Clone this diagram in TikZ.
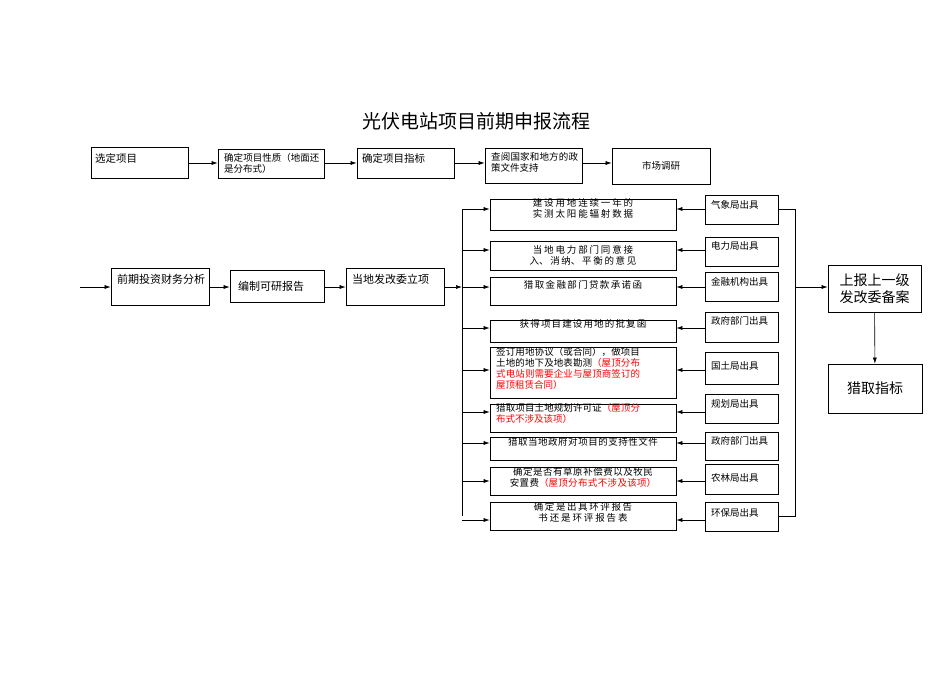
\documentclass[tikz,border=0pt]{standalone}
\usepackage{fontspec}
\setmainfont{Noto Sans CJK SC}
\XeTeXlinebreaklocale "zh"
\XeTeXlinebreakskip=0pt plus 1pt
\usetikzlibrary{arrows.meta}
\begin{document}
\begin{tikzpicture}[x=1pt,y=-1pt,
  bx/.style={draw,line width=0.7pt,inner sep=0pt},
  tx/.style={font=\fontsize{9.5}{11}\selectfont,align=left,inner sep=2pt},
  ar/.style={-{Latex[length=6pt,width=4pt]},line width=0.6pt},
  ln/.style={line width=0.6pt}]
\useasboundingbox (0,0) rectangle (950,672);
\newcommand{\bb}[5]{\node[bx,minimum width=#3-#1,minimum height=#4-#2] (#5) at ({(#1+#3)/2},{(#2+#4)/2}) {};}
\node[font=\fontsize{19}{22}\selectfont] (title) at (476,121) {光伏电站项目前期申报流程};
% top row
\bb{91}{147}{188}{178}{a1}\node[tx,anchor=west,font=\fontsize{10.5}{12}\selectfont] at (93,158) {选定项目};
\bb{218}{149}{324}{178}{a2}\node[tx,anchor=north west,text width=96pt] at (222,151) {确定项目性质（地面还是分布式）};
\bb{357}{148}{454}{178}{a3}\node[tx,anchor=west,font=\fontsize{10.5}{12}\selectfont] at (360,158) {确定项目指标};
\bb{485}{148}{582}{183}{a4}\node[tx,anchor=north west,text width=90pt] at (489,150) {查阅国家和地方的政策文件支持};
\bb{612}{148}{710}{184}{a5}\node[tx] at (661,166) {市场调研};
\coordinate (ty) at (0,163);
\draw[ar] (a1.east |- ty) -- (a2.west |- ty);
\draw[ar] (a2.east |- ty) -- (a3.west |- ty);
\draw[ar] (a3.east |- ty) -- (a4.west |- ty);
\draw[ar] (a4.east |- ty) -- (a5.west |- ty);
% row 2
\bb{111}{268}{209}{305}{b1}\node[tx,anchor=north west,text width=92pt,font=\fontsize{11}{13}\selectfont] at (115,272) {前期投资财务分析};
\bb{230}{270}{324}{302}{b2}\node[tx,font=\fontsize{11}{13}\selectfont] at (271,286) {编制可研报告};
\bb{346}{268}{444}{305}{b3}\node[tx,anchor=north west,text width=92pt,font=\fontsize{11}{13}\selectfont] at (350,272) {当地发改委立项};
\coordinate (in) at (80,287);
\draw[ar] (in) -- (b1.west |- in);
\draw[ar] (b1.east |- in) -- (b2.west |- in);
\draw[ar] (b2.east |- in) -- (b3.west |- in);
\coordinate (lb) at (462,287);
\draw[ar] (b3.east |- in) -- (lb);
\coordinate (lt) at (462,209);\coordinate (lbt) at (462,516);
\draw[ln] (lt) -- (lbt);
% middle boxes
\bb{490}{199}{676}{230}{m1}\bb{490}{241}{676}{270}{m2}\bb{490}{277}{676}{305}{m3}
\bb{490}{320}{676}{342}{m4}\bb{490}{347}{676}{398}{m5}\bb{490}{404}{676}{432}{m6}
\bb{490}{437}{676}{460}{m7}\bb{490}{467}{676}{495}{m8}\bb{490}{502}{676}{530}{m9}
\node[tx,anchor=north,text width=170pt,align=center] at (583,196) {建设用地连续一年的实测太阳能辐射数据};
\node[tx,anchor=north,text width=170pt,align=center] at (583,243) {当地电力部门同意接入、消纳、平衡的意见};
\node[tx,anchor=north,text width=170pt,align=center] at (583,278) {猎取金融部门贷款承诺函};
\node[tx,anchor=north,text width=170pt,align=center] at (583,317) {获得项目建设用地的批复函};
\node[tx,anchor=north west,text width=146pt] at (494,345) {签订用地协议（或合同），做项目土地的地下及地表勘测\textcolor{red}{（屋顶分布式电站则需要企业与屋顶商签订的屋顶租赁合同）}};
\node[tx,anchor=north west,text width=146pt] at (494,401) {猎取项目土地规划许可证\textcolor{red}{（屋顶分布式不涉及该项）}};
\node[tx,anchor=north,text width=170pt,align=center] at (583,435) {猎取当地政府对项目的支持性文件};
\node[tx,anchor=north,text width=160pt,align=center] at (583,465) {确定是否有草原补偿费以及牧民安置费\textcolor{red}{（屋顶分布式不涉及该项）}};
\node[tx,anchor=north,text width=160pt,align=center] at (583,500) {确定是出具环评报告书还是环评报告表};
% right boxes
\bb{705}{195}{778}{224}{r1}\bb{705}{237}{778}{266}{r2}\bb{705}{272}{778}{301}{r3}
\bb{705}{312}{778}{342}{r4}\bb{705}{352}{778}{384}{r5}\bb{705}{394}{778}{423}{r6}
\bb{705}{432}{778}{460}{r7}\bb{705}{464}{778}{494}{r8}\bb{705}{502}{778}{531}{r9}
\node[tx,anchor=north west] at (709,198) {气象局出具};
\node[tx,anchor=north west] at (709,239) {电力局出具};
\node[tx,anchor=north west,text width=62pt] at (709,275) {金融机构出具};
\node[tx,anchor=north west,text width=62pt] at (709,314) {政府部门出具};
\node[tx,anchor=north west] at (709,359) {国土局出具};
\node[tx,anchor=north west] at (709,397) {规划局出具};
\node[tx,anchor=north west,text width=62pt] at (709,434) {政府部门出具};
\node[tx,anchor=north west] at (709,471) {农林局出具};
\node[tx,anchor=north west] at (709,506) {环保局出具};
\foreach \i/\y in {1/209,2/250,3/287,4/328,5/370,6/412,7/443,8/481,9/520}{
  \coordinate (p\i) at (462,\y);
  \draw[ar] (p\i) -- (m\i.west |- p\i);
  \draw[ar] (r\i.west |- p\i) -- (m\i.east |- p\i);
}
\coordinate (rt) at (795,209);\coordinate (rb) at (795,516);\coordinate (rm) at (795,287);
\draw[ln] (r1.east |- rt) -- (rt) -- (rb) -- (r9.east |- rb);
\bb{828}{265}{921}{312}{s1}\bb{828}{364}{922}{413}{s2}
\node[font=\fontsize{14}{17}\selectfont,align=center] at (s1) {上报上一级\\发改委备案};
\node[font=\fontsize{14}{17}\selectfont] at (s2) {猎取指标};
\draw[ar] (rm) -- (s1.west |- rm);
\draw[ar] (s1) -- (s2);
\end{tikzpicture}
\end{document}
